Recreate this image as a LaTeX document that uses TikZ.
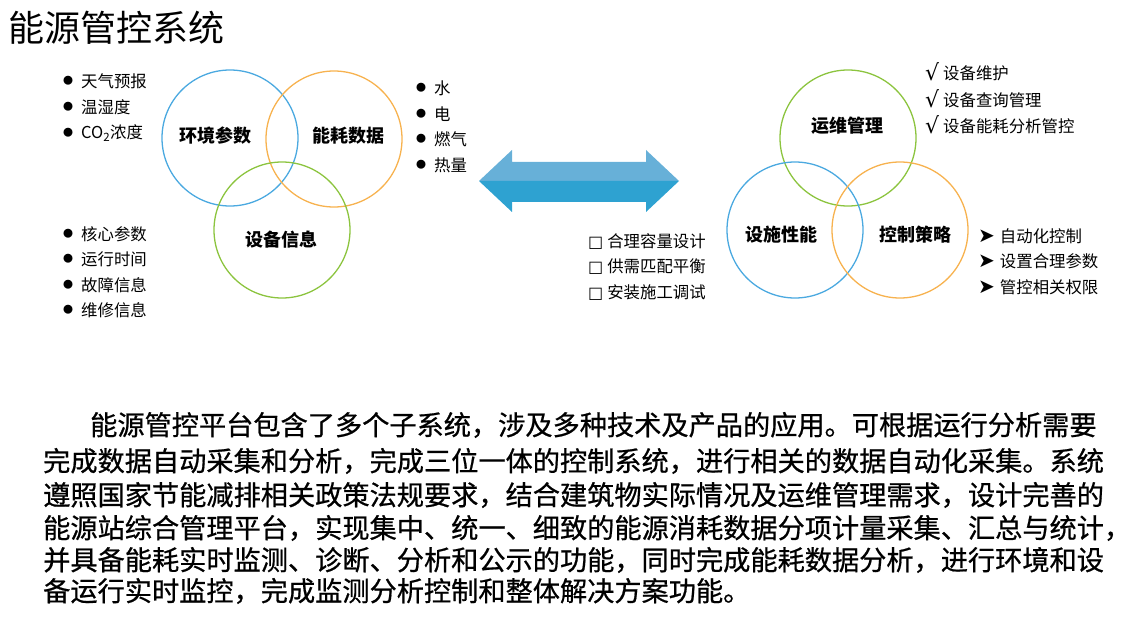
\documentclass[tikz,border=0pt]{standalone}
\usepackage{fontspec}
\setmainfont{Noto Sans CJK SC}
\newfontfamily\sym{DejaVu Sans}
\newfontfamily\parafont[FakeBold=0.7]{Noto Sans CJK SC}
\definecolor{rblue}{HTML}{4BA9E0}
\definecolor{rorange}{HTML}{F7B24F}
\definecolor{rgreen}{HTML}{8CC43F}
\definecolor{arrtop}{HTML}{67B0D8}
\definecolor{arrbot}{HTML}{2EA2D1}
\tikzset{
  ring/.style={circle, draw=#1, line width=1.3pt, minimum size=136pt, inner sep=0pt},
  lab/.style={inner sep=0pt, font=\fontsize{18}{18}\selectfont\bfseries},
  item/.style={anchor=west, inner sep=0pt, font=\fontsize{16.4}{16.4}\selectfont},
  para/.style={anchor=west, inner sep=0pt, font=\parafont\fontsize{27.2}{27.2}\selectfont},
}
\newcommand{\bul}{\raisebox{2.4pt}{\fontsize{10}{10}\selectfont ●}\hspace{8pt}}
\newcommand{\chk}{\raisebox{-1pt}{\sym\fontsize{22}{22}\selectfont √}\hspace{4pt}}
\newcommand{\arr}{\raisebox{-0.5pt}{\sym\fontsize{20}{20}\selectfont ➤}\hspace{5pt}}
\newcommand{\sq}{{\sym\fontsize{16}{16}\selectfont □}\hspace{4pt}}
\begin{document}
\begin{tikzpicture}[x=1pt,y=-1pt]
\useasboundingbox (0,0) rectangle (1129,636);
% title
\node[anchor=west, inner sep=0pt, font=\fontsize{36}{36}\selectfont] (title) at (8,28) {能源管控系统};
% left circles
\node[ring=rblue] (env) at (230,138) {};
\node[ring=rorange] (energy) at (334,139) {};
\node[ring=rgreen] (dev) at (282,230) {};
\node[lab] (envl) at (215,136) {环境参数};
\node[lab] (energyl) at (348,136) {能耗数据};
\node[lab] (devl) at (281,240) {设备信息};
% left lists
\node[item] (a1) at (63,81) {\bul 天气预报};
\node[item] (a2) at (63,107) {\bul 温湿度};
\node[item] (a3) at (63,133) {\bul CO\textsubscript{2}浓度};
\node[item] (b1) at (63,234) {\bul 核心参数};
\node[item] (b2) at (63,259) {\bul 运行时间};
\node[item] (b3) at (63,285) {\bul 故障信息};
\node[item] (b4) at (63,310) {\bul 维修信息};
\node[item] (c1) at (416,88) {\bul 水};
\node[item] (c2) at (416,114) {\bul 电};
\node[item] (c3) at (416,139) {\bul 燃气};
\node[item] (c4) at (416,165) {\bul 热量};
% double arrow
\fill[arrtop] (479,181) -- (512,150) -- (512,162) -- (646,162) -- (646,150) -- (679,181) -- cycle;
\fill[arrbot] (479,181) -- (512,212) -- (512,202) -- (646,202) -- (646,212) -- (679,181) -- cycle;
% right circles
\node[ring=rgreen] (om) at (848,138) {};
\node[ring=rblue] (fac) at (795,230) {};
\node[ring=rorange] (ctl) at (900,230) {};
\node[lab] (oml) at (847,126) {运维管理};
\node[lab] (facl) at (781,235) {设施性能};
\node[lab] (ctll) at (915,235) {控制策略};
% right lists
\node[item] (d1) at (925,72) {\chk 设备维护};
\node[item] (d2) at (925,99) {\chk 设备查询管理};
\node[item] (d3) at (925,125) {\chk 设备能耗分析管控};
\node[item] (e1) at (978,236) {\arr 自动化控制};
\node[item] (e2) at (978,261) {\arr 设置合理参数};
\node[item] (e3) at (978,287) {\arr 管控相关权限};
\node[item] (f1) at (588,242) {\sq 合理容量设计};
\node[item] (f2) at (588,267) {\sq 供需匹配平衡};
\node[item] (f3) at (588,293) {\sq 安装施工调试};
% paragraph
\node[para] (p1) at (90,425) {能源管控平台包含了多个子系统，涉及多种技术及产品的应用。可根据运行分析需要};
\node[para] (p2) at (43,461) {完成数据自动采集和分析，完成三位一体的控制系统，进行相关的数据自动化采集。系统};
\node[para] (p3) at (43,495) {遵照国家节能减排相关政策法规要求，结合建筑物实际情况及运维管理需求，设计完善的};
\node[para] (p4) at (43,528) {能源站综合管理平台，实现集中、统一、细致的能源消耗数据分项计量采集、汇总与统计，};
\node[para] (p5) at (43,560) {并具备能耗实时监测、诊断、分析和公示的功能，同时完成能耗数据分析，进行环境和设};
\node[para] (p6) at (43,591) {备运行实时监控，完成监测分析控制和整体解决方案功能。};
\end{tikzpicture}
\end{document}
